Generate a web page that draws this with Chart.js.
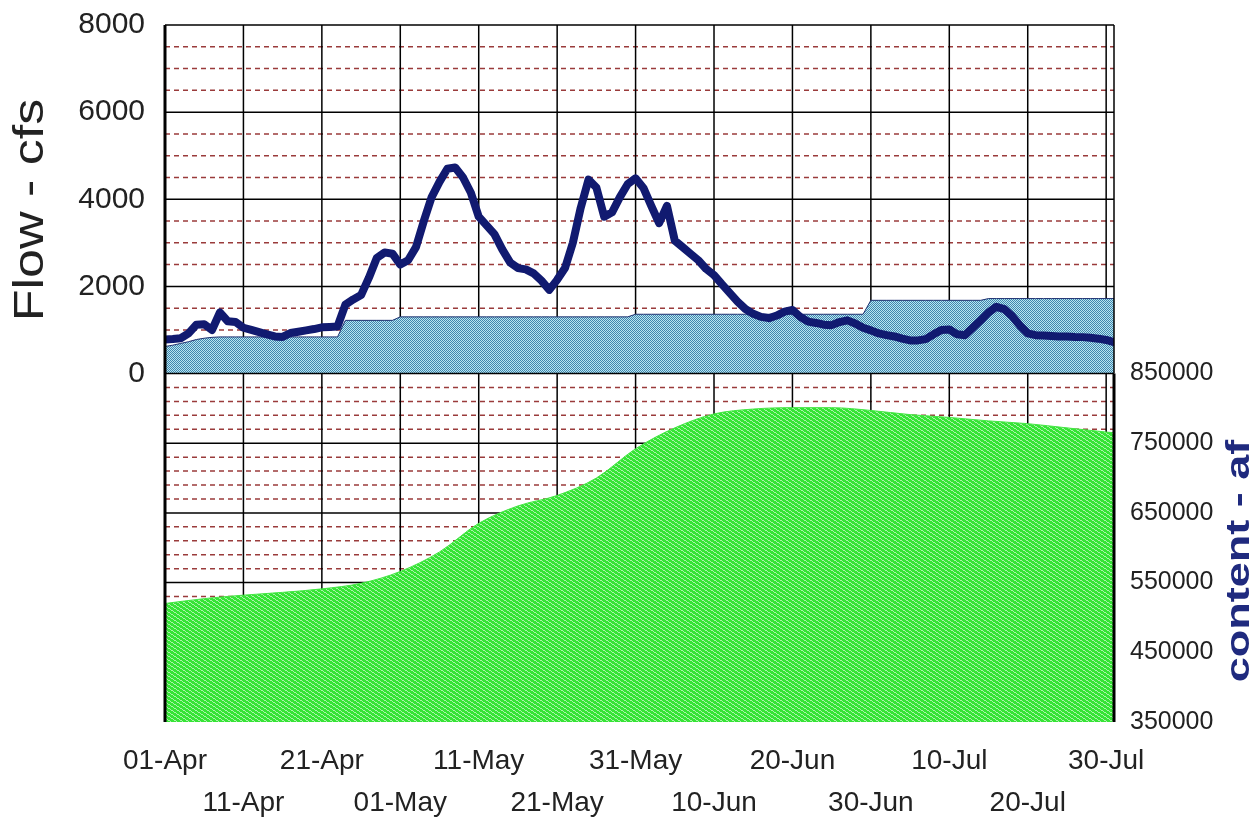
<!DOCTYPE html>
<html lang="en">
<head>
<meta charset="UTF-8">
<title>Flow and content</title>
<script src="https://cdn.jsdelivr.net/npm/chart.js@4"></script>
<style>
  body { margin: 0; background: #fff; }
  #wrap { width: 1253px; height: 820px; }
</style>
</head>
<body>
<div id="wrap"><canvas id="flowChart"></canvas></div>
<script>
// day 0 = 01-Apr ... day 121 = 31-Jul
var tickDays = [0, 10, 20, 30, 40, 50, 60, 70, 80, 90, 100, 110, 120];
var tickLabels = ['01-Apr', '11-Apr', '21-Apr', '01-May', '11-May', '21-May', '31-May',
                  '10-Jun', '20-Jun', '30-Jun', '10-Jul', '20-Jul', '30-Jul'];

// daily flow, cfs
var flowCfs = [
   780,  790,  810,  920, 1120, 1130, 1000, 1400, 1200, 1180,
  1050, 1000,  950,  900,  850,  840,  930,  960,  990, 1020,
  1060, 1070, 1080, 1580, 1700, 1800, 2200, 2650, 2780, 2750,
  2500, 2600, 2900, 3500, 4050, 4400, 4700, 4730, 4500, 4150,
  3600, 3400, 3200, 2850, 2550, 2420, 2390, 2300, 2130, 1920,
  2150, 2420, 3000, 3800, 4450, 4270, 3600, 3700, 4050, 4350,
  4480, 4260, 3850, 3450, 3850, 3050, 2900, 2750, 2600, 2400,
  2260, 2050, 1850, 1650, 1480, 1370, 1300, 1270, 1330, 1420,
  1460, 1300, 1190, 1160, 1120, 1110, 1180, 1220, 1150, 1050,
   990,  920,  880,  850,  800,  760,  760,  790,  900, 1000,
  1010,  900,  880, 1050, 1220, 1400, 1530, 1480, 1320, 1100,
   920,  880,  870,  860,  850,  850,  840,  835,  820,  800,
   770,  720
];

// daily release, cfs
var releaseCfs = [
   620,  650,  690,  730,  780,  810,  830,  840,  840,  840,
   840,  840,  840,  840,  840,  840,  840,  840,  840,  840,
   840,  840,  840, 1220, 1220, 1220, 1220, 1220, 1220, 1220,
  1300, 1300, 1300, 1300, 1300, 1300, 1300, 1300, 1300, 1300,
  1300, 1300, 1300, 1300, 1300, 1300, 1300, 1300, 1300, 1300,
  1300, 1300, 1300, 1300, 1300, 1300, 1300, 1300, 1300, 1300,
  1360, 1360, 1360, 1360, 1360, 1360, 1360, 1360, 1360, 1360,
  1360, 1360, 1360, 1360, 1360, 1360, 1360, 1360, 1360, 1360,
  1360, 1360, 1360, 1360, 1360, 1360, 1360, 1360, 1360, 1360,
  1680, 1680, 1680, 1680, 1680, 1680, 1680, 1680, 1680, 1680,
  1680, 1680, 1680, 1680, 1680, 1720, 1720, 1720, 1720, 1720,
  1720, 1720, 1720, 1720, 1720, 1720, 1720, 1720, 1720, 1720,
  1720, 1720
];

// reservoir content, af
var contentDays = [0, 5, 10, 15, 20, 25, 30, 35, 40, 45, 50, 55, 60,
                   65, 70, 75, 80, 85, 90, 95, 100, 105, 110, 115, 120, 121];
var contentAf = [520000, 527000, 532000, 536000, 541000, 549000, 566000, 594000, 635000,
                 660000, 675000, 700000, 742000, 772000, 792000, 799000, 801000, 801000,
                 797000, 791000, 787000, 782000, 778000, 772000, 766000, 765000];

var tickFont = "'Liberation Sans', Arial, sans-serif";

function makePattern(w, h, base, dot, pts) {
    var c = document.createElement('canvas');
    c.width = w; c.height = h;
    var g = c.getContext('2d');
    g.fillStyle = base;
    g.fillRect(0, 0, w, h);
    g.fillStyle = dot;
    pts.forEach(function (p) { g.fillRect(p[0], p[1], 1, 1); });
    return g.createPattern(c, 'repeat');
}

var ctx = document.getElementById('flowChart').getContext('2d');
var bluePattern = makePattern(2, 2, '#b8e6f1', '#4186ae', [[0, 0], [1, 1]]);
var greenPattern = makePattern(6, 4, '#36e436', '#aaf3aa', [[0, 0], [1, 0], [2, 1], [3, 2], [4, 2], [5, 3]]);

function hline(c, a, y) { c.beginPath(); c.moveTo(a.left, y); c.lineTo(a.right, y); c.stroke(); }

var paperGrid = {
    id: 'paperGrid',
    beforeDatasetsDraw: function (chart) {
        var c = chart.ctx, a = chart.chartArea;
        var yL = chart.scales.y, yR = chart.scales.y2, xs = chart.scales.x;
        c.save();
        c.lineWidth = 1.5;
        c.strokeStyle = '#9a3b3b';
        c.setLineDash([5, 4]);
        for (var v = 500; v < 8000; v += 500) {
            if (v % 2000) hline(c, a, yL.getPixelForValue(v));
        }
        for (var k = 370000; k < 850000; k += 20000) {
            if ((k - 350000) % 100000) hline(c, a, yR.getPixelForValue(k));
        }
        c.setLineDash([]);
        c.strokeStyle = '#000';
        for (var m = 2000; m < 8000; m += 2000) hline(c, a, yL.getPixelForValue(m));
        for (var n = 450000; n < 850000; n += 100000) hline(c, a, yR.getPixelForValue(n));
        tickDays.forEach(function (d) {
            var px = xs.getPixelForValue(d);
            c.beginPath(); c.moveTo(px, a.top); c.lineTo(px, a.bottom); c.stroke();
        });
        c.restore();
    },
    afterDatasetsDraw: function (chart) {
        var c = chart.ctx, a = chart.chartArea;
        var mid = chart.scales.y.getPixelForValue(0);
        c.save();
        c.strokeStyle = '#000';
        c.lineWidth = 1.5;
        hline(c, a, a.top);
        hline(c, a, mid);
        c.beginPath(); c.moveTo(a.right, a.top); c.lineTo(a.right, mid); c.stroke();
        c.lineWidth = 3;
        c.beginPath(); c.moveTo(a.left, a.top); c.lineTo(a.left, a.bottom); c.stroke();
        c.beginPath(); c.moveTo(a.right, mid); c.lineTo(a.right, a.bottom); c.stroke();
        c.restore();
    },
    afterDraw: function (chart) {
        var c = chart.ctx;
        drawTitle(c, 'Flow - cfs', 43, 210, "52px 'Liberation Sans', sans-serif", '#222', 0.8);
        drawTitle(c, 'content - af', 1249, 561, "bold 45px 'Liberation Sans', sans-serif", '#1f2a7e', 0.75);
    }
};

function drawTitle(c, text, bx, cy, font, color, squash) {
    c.save();
    c.translate(bx, cy);
    c.rotate(-Math.PI / 2);
    c.scale(1, squash);
    c.font = font;
    c.fillStyle = color;
    c.textAlign = 'center';
    c.textBaseline = 'alphabetic';
    c.fillText(text, 0, 0);
    c.restore();
}

function noPad(scale) {
    scale.paddingTop = 0;
    scale.paddingBottom = 0;
}

var chart = new Chart(ctx, {
    type: 'line',
    data: {
        datasets: [{
            label: 'Flow',
            data: flowCfs.map(function (v, i) { return { x: i, y: v }; }),
            yAxisID: 'y',
            borderColor: '#111a70',
            borderWidth: 8,
            borderJoinStyle: 'round',
            borderCapStyle: 'round',
            pointRadius: 0,
            fill: false,
            tension: 0
        }, {
            label: 'Release',
            data: releaseCfs.map(function (v, i) { return { x: i, y: v }; }),
            yAxisID: 'y',
            borderColor: '#1d2f70',
            borderWidth: 1,
            backgroundColor: bluePattern,
            pointRadius: 0,
            fill: 'origin',
            tension: 0
        }, {
            label: 'Content',
            data: contentDays.map(function (d, i) { return { x: d, y: contentAf[i] }; }),
            yAxisID: 'y2',
            borderColor: '#44e644',
            borderWidth: 1,
            backgroundColor: greenPattern,
            pointRadius: 0,
            fill: 'start',
            cubicInterpolationMode: 'monotone'
        }]
    },
    options: {
        responsive: true,
        maintainAspectRatio: false,
        animation: false,
        layout: { padding: { top: 25, left: 0, right: 0, bottom: 0 } },
        plugins: {
            legend: { display: false },
            tooltip: { enabled: false }
        },
        scales: {
            x: {
                type: 'linear',
                min: 0,
                max: 121,
                grid: { display: false },
                border: { display: false },
                afterBuildTicks: function (scale) {
                    scale.ticks = tickDays.map(function (d) { return { value: d }; });
                },
                afterFit: function (scale) { scale.height = 98; },
                ticks: {
                    autoSkip: false,
                    maxRotation: 0,
                    padding: 10,
                    color: '#222',
                    font: { family: tickFont, size: 28, lineHeight: 1.5 },
                    callback: function (value) {
                        var i = tickDays.indexOf(value);
                        if (i < 0) return '';
                        return i % 2 ? ['', tickLabels[i]] : tickLabels[i];
                    }
                }
            },
            y: {
                position: 'left',
                min: -8000,
                max: 8000,
                grid: { display: false },
                border: { display: false },
                afterFit: function (scale) { scale.width = 165; noPad(scale); },
                ticks: {
                    stepSize: 2000,
                    padding: 12,
                    color: '#222',
                    font: { family: tickFont, size: 30 },
                    callback: function (value) { return value >= 0 ? String(value) : ''; }
                }
            },
            y2: {
                position: 'right',
                min: 350000,
                max: 1350000,
                grid: { display: false },
                border: { display: false },
                afterFit: function (scale) { scale.width = 139; noPad(scale); },
                ticks: {
                    stepSize: 100000,
                    padding: 8,
                    color: '#222',
                    font: { family: tickFont, size: 25 },
                    callback: function (value) { return value <= 850000 ? String(value) : ''; }
                }
            }
        }
    },
    plugins: [paperGrid]
});
</script>
</body>
</html>
